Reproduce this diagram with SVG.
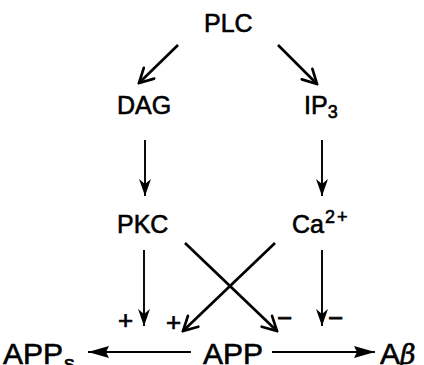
<svg xmlns="http://www.w3.org/2000/svg" width="424" height="365" viewBox="0 0 424 365">
  <style>
    .lbl { font-family: "Liberation Sans", Arial, sans-serif; font-size: 25px; fill: #000; stroke: #000; stroke-width: 0.6px; }
    .big { font-size: 30px; }
    .sign { font-family: "Liberation Sans", Arial, sans-serif; font-size: 26px; fill: #000; stroke: #000; stroke-width: 0.7px; }
    .thick { stroke: #000; stroke-width: 2.7; fill: none; }
    .thin { stroke: #000; stroke-width: 1.9; fill: none; }
  </style>
  <defs>
    <marker id="vee" markerUnits="userSpaceOnUse" viewBox="-16 -9 18 18" refX="0" refY="0" markerWidth="18" markerHeight="18" orient="auto">
      <path d="M-14,-7.5 L0,0 L-14,7.5" fill="none" stroke="#000" stroke-width="2.7" stroke-linecap="round" stroke-linejoin="miter"/>
    </marker>
    <marker id="dart" markerUnits="userSpaceOnUse" viewBox="-18 -7 19 14" refX="0" refY="0" markerWidth="19" markerHeight="14" orient="auto">
      <path d="M0,0 L-17,-6 L-12,0 L-17,6 Z" fill="#000"/>
    </marker>
    <marker id="solid" markerUnits="userSpaceOnUse" viewBox="-22 -7 23 14" refX="0" refY="0" markerWidth="23" markerHeight="14" orient="auto">
      <path d="M0,0 L-21,-6 L-18,0 L-21,6 Z" fill="#000"/>
    </marker>
  </defs>

  <g id="connectors">
    <!-- PLC splits into DAG and IP3 -->
    <line class="thick" x1="178" y1="45" x2="139" y2="83" marker-end="url(#vee)"/>
    <line class="thick" x1="278" y1="45" x2="317" y2="84" marker-end="url(#vee)"/>
    <!-- DAG -> PKC, IP3 -> Ca2+ -->
    <line class="thin" x1="145" y1="140" x2="145" y2="196" marker-end="url(#dart)"/>
    <line class="thin" x1="322" y1="140" x2="322" y2="196" marker-end="url(#dart)"/>
    <!-- straight effects on APP processing -->
    <line class="thin" x1="144" y1="250" x2="144" y2="326" marker-end="url(#dart)"/>
    <line class="thin" x1="322" y1="250" x2="322" y2="326" marker-end="url(#dart)"/>
    <!-- crossed effects -->
    <line class="thick" x1="185" y1="243" x2="277" y2="331" marker-end="url(#vee)"/>
    <line class="thick" x1="275" y1="243" x2="183" y2="331" marker-end="url(#vee)"/>
    <!-- APP cleavage products -->
    <line class="thin" x1="191" y1="352" x2="88" y2="352" marker-end="url(#solid)"/>
    <line class="thin" x1="272" y1="352" x2="375" y2="352" marker-end="url(#solid)"/>
    <!-- signs -->
    <text class="sign" x="118" y="329">+</text>
    <text class="sign" x="166" y="331">+</text>
    <text class="sign" x="277" y="327">−</text>
    <text class="sign" x="328" y="327">−</text>
  </g>

  <g id="PLC"><text class="lbl" x="204" y="32">PLC</text></g>
  <g id="DAG"><text class="lbl" x="117" y="114">DAG</text></g>
  <g id="IP3"><text class="lbl" x="304" y="114">IP<tspan font-size="18" dy="4">3</tspan></text></g>
  <g id="PKC"><text class="lbl" x="117" y="233" font-size="26">PKC</text></g>
  <g id="Ca"><text class="lbl" x="292" y="233">Ca<tspan font-size="18" dy="-10" dx="1">2</tspan><tspan font-size="18" dx="2">+</tspan></text></g>
  <g id="APPs"><text class="lbl big" x="3" y="364">APP<tspan font-size="21" dy="6" dx="1">s</tspan></text></g>
  <g id="APP"><text class="lbl big" x="203" y="364">APP</text></g>
  <g id="Abeta"><text class="lbl big" x="380" y="364">A<tspan font-style="italic" font-family="'DejaVu Serif', 'Liberation Serif', serif" font-size="27">β</tspan></text></g>
</svg>
